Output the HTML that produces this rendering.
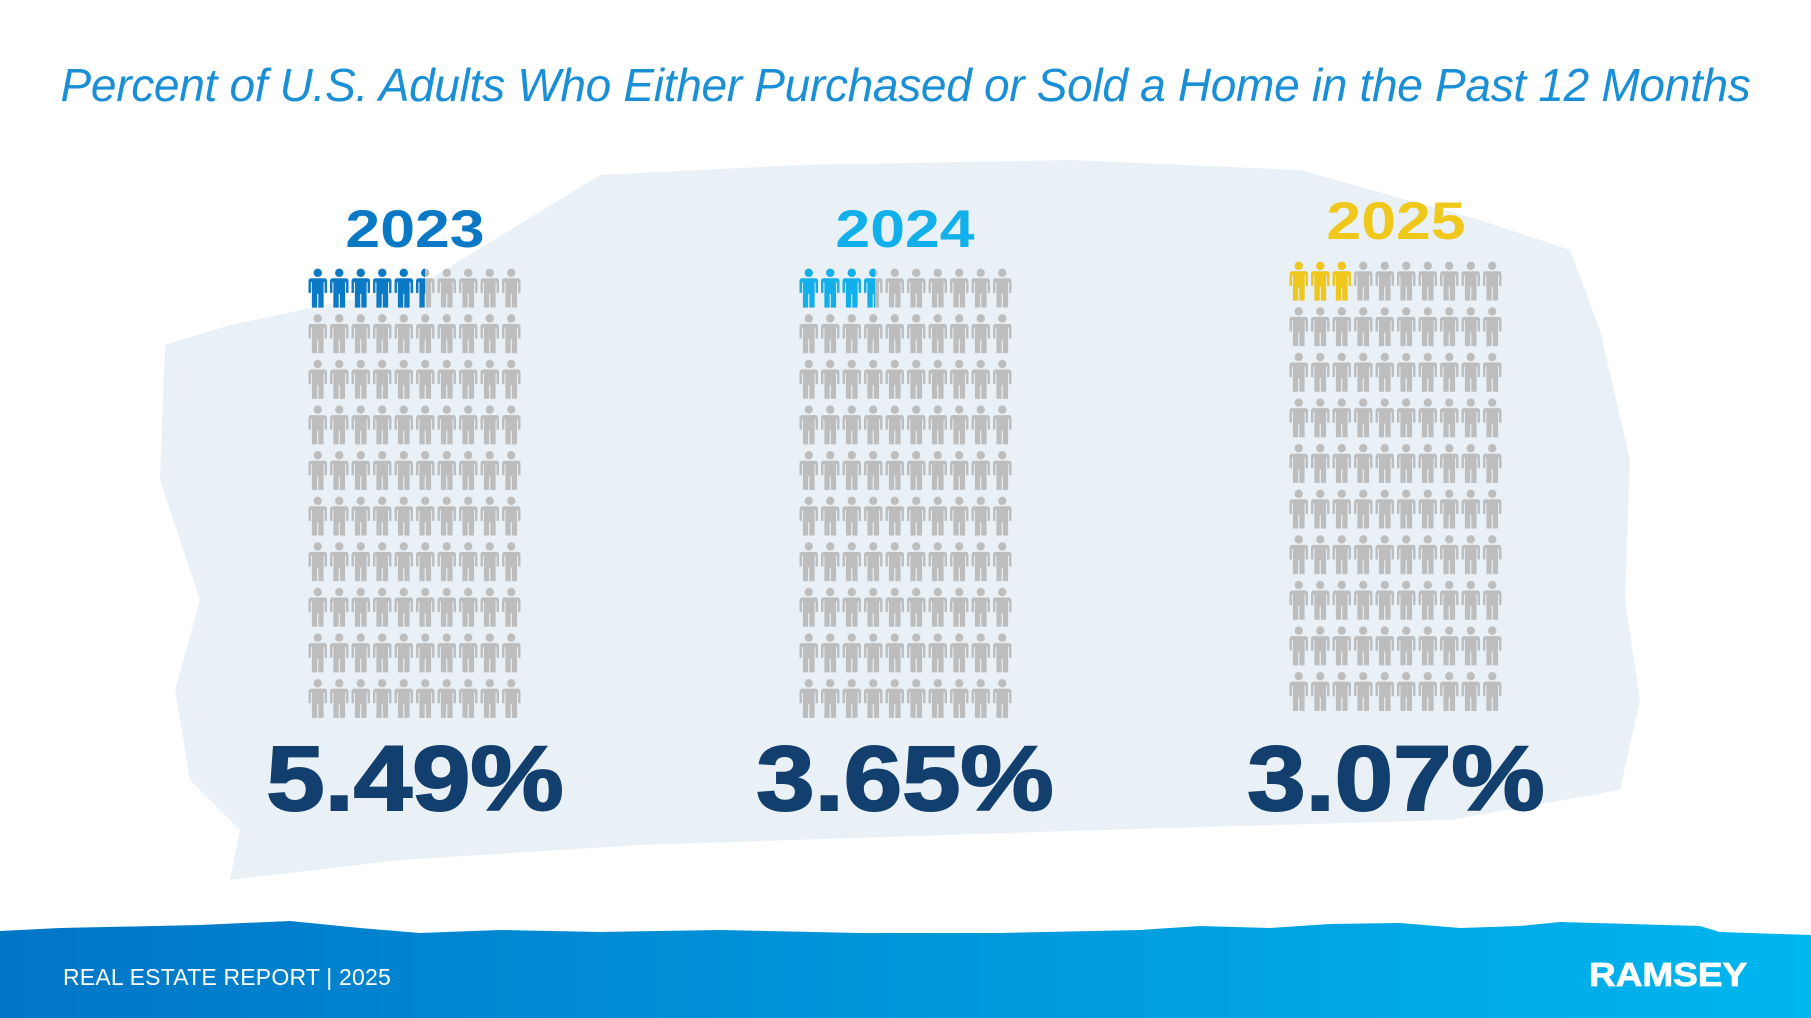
<!DOCTYPE html>
<html><head><meta charset="utf-8"><style>
html,body{margin:0;padding:0;background:#fff;}
body{width:1811px;height:1018px;position:relative;overflow:hidden;font-family:"Liberation Sans",sans-serif;}
.t{position:absolute;white-space:nowrap;}
.yr{font-size:53px;font-weight:bold;transform:scaleX(1.18);}
.pc{font-size:92px;font-weight:bold;color:#123f6d;transform:scaleX(1.14);-webkit-text-stroke:2px #123f6d;}
</style></head><body>
<svg width="1811" height="1018" style="position:absolute;left:0;top:0">
<defs>
<symbol id="p" viewBox="0 0 20 40">
<circle cx="10" cy="4.4" r="4.3"/>
<path d="M3.5 10 H16.5 Q19.5 10 19.5 13 V25 H17 V14 H16 V40 H10.6 V26 H9.4 V40 H4 V14 H3 V25 H0.5 V13 Q0.5 10 3.5 10Z"/>
</symbol>
<pattern id="g" x="0" y="0" width="21.5" height="45.6" patternUnits="userSpaceOnUse"><use href="#p" x="0" y="0" width="19.5" height="40" fill="#bdbdbd"/></pattern>
<pattern id="b1" x="0" y="0" width="21.5" height="45.6" patternUnits="userSpaceOnUse"><use href="#p" x="0" y="0" width="19.5" height="40" fill="#0a7ac6"/></pattern>
<pattern id="b2" x="0" y="0" width="21.5" height="45.6" patternUnits="userSpaceOnUse"><use href="#p" x="0" y="0" width="19.5" height="40" fill="#12b0ea"/></pattern>
<pattern id="b3" x="0" y="0" width="21.5" height="45.6" patternUnits="userSpaceOnUse"><use href="#p" x="0" y="0" width="19.5" height="40" fill="#f0c81c"/></pattern>
<linearGradient id="f" x1="0" x2="1"><stop offset="0" stop-color="#0076c6"/><stop offset="1" stop-color="#00b6ee"/></linearGradient>
</defs>
<path d="M165 345 L230 325 L420 285 L600 175 L800 165 L1070 160 L1300 170 L1480 220 L1570 250 L1600 330 L1630 460 L1625 600 L1640 700 L1620 790 L1450 820 L1100 830 L640 845 L400 860 L230 880 L240 830 L190 780 L175 690 L200 600 L160 480 Z" fill="#e9f1f7"/>
<g transform="translate(308,268)"><rect width="215" height="456" fill="url(#g)"/><rect width="117" height="44" fill="url(#b1)"/></g>
<g transform="translate(799,268)"><rect width="215" height="456" fill="url(#g)"/><rect width="76" height="44" fill="url(#b2)"/></g>
<g transform="translate(1289,261)"><rect width="215" height="456" fill="url(#g)"/><rect width="63" height="44" fill="url(#b3)"/></g>
<path d="M0 931 L60 928 L200 925 L290 921 L360 928 L420 933 L500 930 L600 932 L720 930 L860 933 L1000 933 L1140 930 L1200 926 L1270 928 L1330 924 L1400 923 L1460 928 L1520 926 L1560 922 L1700 926 L1720 932 L1811 935 L1811 1018 L0 1018 Z" fill="url(#f)"/>
</svg>
<div class="t" style="left:0;width:1811px;text-align:center;top:58px;font-size:46px;font-style:italic;color:#1a8fd6;letter-spacing:-0.3px">Percent of U.S. Adults Who Either Purchased or Sold a Home in the Past 12 Months</div>
<div class="t yr" style="left:315px;width:200px;text-align:center;top:199px;color:#0a78c4">2023</div>
<div class="t yr" style="left:805px;width:200px;text-align:center;top:199px;color:#12b0ea">2024</div>
<div class="t yr" style="left:1296px;width:200px;text-align:center;top:191px;color:#f0c81c">2025</div>
<div class="t pc" style="left:215px;width:400px;text-align:center;top:727px">5.49%</div>
<div class="t pc" style="left:705px;width:400px;text-align:center;top:727px">3.65%</div>
<div class="t pc" style="left:1196px;width:400px;text-align:center;top:727px">3.07%</div>
<div class="t" style="left:63px;top:964px;font-size:23px;color:#fff;letter-spacing:0.2px">REAL ESTATE REPORT | 2025</div>
<div class="t" style="left:1589px;top:956px;font-size:33px;font-weight:bold;color:#fff;transform:scaleX(1.12);transform-origin:left;-webkit-text-stroke:0.8px #fff">RAMSEY</div>
</body></html>
